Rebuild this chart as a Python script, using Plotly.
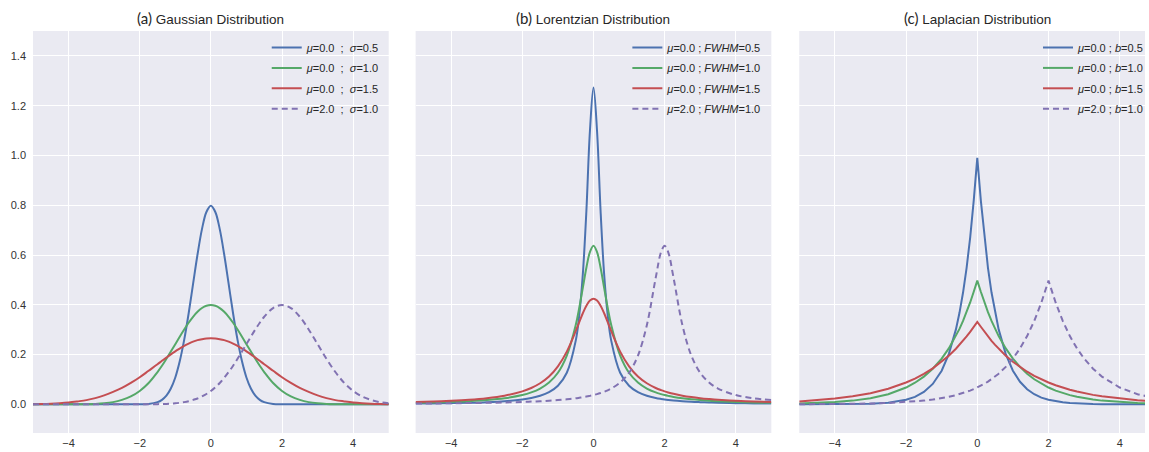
import plotly.graph_objects as go

# ---------------- data ----------------
x_a = [-5, -4.75, -4.5, -4.25, -4, -3.75, -3.5, -3.25, -3, -2.75, -2.5, -2.25, -2, -1.75, -1.5,
       -1.375, -1.25, -1.125, -1, -0.875, -0.75, -0.625, -0.5, -0.375, -0.25, -0.125, 0,
       0.125, 0.25, 0.375, 0.5, 0.625, 0.75, 0.875, 1, 1.125, 1.25, 1.375,
       1.5, 1.75, 2, 2.25, 2.5, 2.75, 3, 3.25, 3.5, 3.75, 4, 4.25, 4.5, 4.75, 5]
gauss_s05 = [0, 0, 0, 0, 0, 0, 0, 0, 0, 0, 0, 0, 0.0003, 0.0017, 0.0089,
             0.0182, 0.035, 0.0635, 0.108, 0.173, 0.259, 0.365, 0.484, 0.602, 0.704, 0.773,
             0.798,
             0.773, 0.704, 0.602, 0.484, 0.365, 0.259, 0.173, 0.108, 0.0635, 0.035, 0.0182,
             0.0089, 0.0017, 0.0003, 0, 0, 0, 0, 0, 0, 0, 0, 0, 0, 0, 0]
gauss_s10 = [0, 0, 0, 0, 0.0001, 0.0004, 0.0009, 0.002, 0.0044, 0.009, 0.018, 0.032, 0.054, 0.086, 0.130,
             0.155, 0.183, 0.212, 0.242, 0.272, 0.301, 0.328, 0.352, 0.372, 0.387, 0.396,
             0.399,
             0.396, 0.387, 0.372, 0.352, 0.328, 0.301, 0.272, 0.242, 0.212, 0.183, 0.155,
             0.130, 0.086, 0.054, 0.032, 0.018, 0.009, 0.0044, 0.002, 0.0009, 0.0004, 0.0001, 0, 0, 0, 0]
gauss_s15 = [0.0010, 0.0018, 0.0030, 0.0048, 0.0076, 0.012, 0.017, 0.025, 0.036, 0.050, 0.066, 0.086, 0.109,
             0.135, 0.161,
             0.175, 0.188, 0.201, 0.213, 0.224, 0.235, 0.244, 0.252, 0.258, 0.262, 0.265,
             0.266,
             0.265, 0.262, 0.258, 0.252, 0.244, 0.235, 0.224, 0.213, 0.201, 0.188, 0.175,
             0.161, 0.135, 0.109, 0.086, 0.066, 0.050, 0.036, 0.025, 0.017, 0.012, 0.0076, 0.0048, 0.0030,
             0.0018, 0.0010]
gauss_m2 = [0, 0, 0, 0, 0, 0, 0, 0, 0, 0, 0, 0, 0.0001, 0.0004, 0.0009,
            0.0013, 0.002, 0.0030, 0.0044, 0.0064, 0.009, 0.0127, 0.018, 0.0238, 0.032, 0.0417,
            0.054,
            0.0688, 0.086, 0.1066, 0.130, 0.155, 0.183, 0.212, 0.242, 0.272, 0.301, 0.328,
            0.352, 0.387, 0.399, 0.387, 0.352, 0.301, 0.242, 0.183, 0.130, 0.086, 0.054, 0.032, 0.018,
            0.009, 0.0044]

x_b = [-5, -4.5, -4, -3.5, -3, -2.5, -2, -1.75, -1.5, -1.25, -1, -0.75, -0.5, -0.4, -0.3, -0.2, -0.1, 0,
       0.1, 0.2, 0.3, 0.4, 0.5, 0.75, 1, 1.25, 1.5, 1.75, 1.9, 2, 2.1, 2.25, 2.5, 2.75, 3, 3.25, 3.5, 4, 4.5, 5]
lor_w05 = [0.0032, 0.0039, 0.0050, 0.0065, 0.0088, 0.0126, 0.0196, 0.0255, 0.0344, 0.049, 0.0749, 0.127,
           0.255, 0.358, 0.522, 0.776, 1.098,
           1.273,
           1.098, 0.776, 0.522, 0.358, 0.255, 0.127, 0.0749, 0.049, 0.0344, 0.0255, 0.0217, 0.0196, 0.0178,
           0.0155, 0.0126, 0.0104, 0.0088, 0.0075, 0.0065, 0.0050, 0.0039, 0.0032]
lor_w10 = [0.0063, 0.0078, 0.0098, 0.0127, 0.0172, 0.0245, 0.0374, 0.0480, 0.0637, 0.0878, 0.127, 0.196,
           0.318, 0.388, 0.468, 0.549, 0.612,
           0.637,
           0.612, 0.549, 0.468, 0.388, 0.318, 0.196, 0.127, 0.0878, 0.0637, 0.0480, 0.0412, 0.0374, 0.0342,
           0.0300, 0.0245, 0.0204, 0.0172, 0.0147, 0.0127, 0.0098, 0.0078, 0.0063]
lor_w15 = [0.0093, 0.0115, 0.0144, 0.0186, 0.0250, 0.0350, 0.0523, 0.0659, 0.0849, 0.112, 0.153, 0.212,
           0.294, 0.330, 0.366, 0.396, 0.417,
           0.424,
           0.417, 0.396, 0.366, 0.330, 0.294, 0.212, 0.153, 0.112, 0.0849, 0.0659, 0.0572, 0.0523, 0.0480,
           0.0424, 0.0350, 0.0294, 0.0250, 0.0215, 0.0186, 0.0144, 0.0115, 0.0093]
lor_m2 = [0.0032, 0.0037, 0.0044, 0.0052, 0.0063, 0.0078, 0.0098, 0.0111, 0.0127, 0.0147, 0.0172, 0.0204,
          0.0245, 0.0265, 0.0287, 0.0313, 0.0342, 0.0374, 0.0412, 0.0456, 0.0507, 0.0566, 0.0637, 0.0878,
          0.127, 0.196, 0.318, 0.509, 0.612, 0.637, 0.612, 0.509, 0.318, 0.196, 0.127, 0.0878, 0.0637,
          0.0374, 0.0245, 0.0172]

x_c = [-5, -4.5, -4, -3.5, -3, -2.5, -2, -1.75, -1.5, -1.25, -1, -0.8, -0.6, -0.5, -0.4, -0.3, -0.2, -0.1, 0,
       0.1, 0.2, 0.3, 0.4, 0.5, 0.6, 0.8, 1, 1.2, 1.4, 1.6, 1.8, 2, 2.2, 2.4, 2.6, 2.8, 3, 3.25, 3.5, 4, 4.5, 5]
lap_b05 = [0.0000, 0.0001, 0.0003, 0.0009, 0.0025, 0.0067, 0.0183, 0.0302, 0.0498, 0.0821, 0.1353, 0.2019,
           0.3012, 0.3679, 0.4493, 0.5488, 0.6703, 0.8187,
           0.99,
           0.8187, 0.6703, 0.5488, 0.4493, 0.3679, 0.3012, 0.2019, 0.1353, 0.0907, 0.0608, 0.0408, 0.0273,
           0.0183, 0.0123, 0.0082, 0.0055, 0.0037, 0.0025, 0.0015, 0.0009, 0.0003, 0.0001, 0.0000]
lap_b10 = [0.0034, 0.0056, 0.0092, 0.0151, 0.0249, 0.0410, 0.0677, 0.0869, 0.1116, 0.1433, 0.1839, 0.2247,
           0.2744, 0.3033, 0.3352, 0.3704, 0.4094, 0.4524,
           0.497,
           0.4524, 0.4094, 0.3704, 0.3352, 0.3033, 0.2744, 0.2247, 0.1839, 0.1506, 0.1233, 0.1009, 0.0826,
           0.0677, 0.0554, 0.0454, 0.0371, 0.0304, 0.0249, 0.0194, 0.0151, 0.0092, 0.0056, 0.0034]
lap_b15 = [0.0119, 0.0166, 0.0232, 0.0323, 0.0451, 0.0630, 0.0879, 0.1038, 0.1226, 0.1449, 0.1711, 0.1955,
           0.2234, 0.2388, 0.2553, 0.2729, 0.2917, 0.3118,
           0.331,
           0.3118, 0.2917, 0.2729, 0.2553, 0.2388, 0.2234, 0.1955, 0.1711, 0.1498, 0.1311, 0.1147, 0.1004,
           0.0879, 0.0769, 0.0673, 0.0589, 0.0515, 0.0451, 0.0382, 0.0323, 0.0232, 0.0166, 0.0119]
lap_m2 = [0.0005, 0.0008, 0.0012, 0.0020, 0.0034, 0.0056, 0.0092, 0.0118, 0.0151, 0.0194, 0.0249, 0.0304,
          0.0371, 0.0410, 0.0454, 0.0501, 0.0554, 0.0612, 0.0677, 0.0748, 0.0826, 0.0913, 0.1009, 0.1116,
          0.1233, 0.1506, 0.1839, 0.2247, 0.2744, 0.3352, 0.4094, 0.497, 0.4094, 0.3352, 0.2744, 0.2247,
          0.1839, 0.1433, 0.1116, 0.0677, 0.0410, 0.0249]

labels_a = ["<i>μ</i>=0.0  ;  <i>σ</i>=0.5", "<i>μ</i>=0.0  ;  <i>σ</i>=1.0",
            "<i>μ</i>=0.0  ;  <i>σ</i>=1.5", "<i>μ</i>=2.0  ;  <i>σ</i>=1.0"]
labels_b = ["<i>μ</i>=0.0 ; <i>FWHM</i>=0.5", "<i>μ</i>=0.0 ; <i>FWHM</i>=1.0",
            "<i>μ</i>=0.0 ; <i>FWHM</i>=1.5", "<i>μ</i>=2.0 ; <i>FWHM</i>=1.0"]
labels_c = ["<i>μ</i>=0.0 ; <i>b</i>=0.5", "<i>μ</i>=0.0 ; <i>b</i>=1.0",
            "<i>μ</i>=0.0 ; <i>b</i>=1.5", "<i>μ</i>=2.0 ; <i>b</i>=1.0"]
titles = [("(a)", "Gaussian Distribution"), ("(b)", "Lorentzian Distribution"), ("(c)", "Laplacian Distribution")]
y_ticks = [0.0, 0.2, 0.4, 0.6, 0.8, 1.0, 1.2, 1.4]
x_ticks = [-4, -2, 0, 2, 4]

# ---------------- styling ----------------
W, H = 1149, 452
ML, MR, MT, MB = 33, 0, 31, 19
PW = W - ML - MR
PH = H - MT - MB
def px2dom(a, b):
    return [(a - ML) / PW, (b - ML) / PW]
domains = [px2dom(33, 390), px2dom(417, 774), px2dom(802, 1149)]
xranges = [[-5, 5], [-5, 5], [-5, 4.71]]
colors = ["#4C72B0", "#55A868", "#C44E52", "#8172B2"]
text_col = "#262626"
shapes = ["spline", "spline", "linear"]

panels = [
    (x_a, [gauss_s05, gauss_s10, gauss_s15, gauss_m2], labels_a),
    (x_b, [lor_w05, lor_w10, lor_w15, lor_m2], labels_b),
    (x_c, [lap_b05, lap_b10, lap_b15, lap_m2], labels_c),
]

fig = go.Figure()
for p, (xs, ys_list, labs) in enumerate(panels):
    sfx = "" if p == 0 else str(p + 1)
    for i, ys in enumerate(ys_list):
        fig.add_trace(go.Scatter(
            x=xs, y=ys, mode="lines", name=labs[i],
            line=dict(color=colors[i], width=2, shape=shapes[p],
                      dash="6px,4px" if i == 3 else "solid"),
            xaxis="x" + sfx, yaxis="y" + sfx, legend="legend" + sfx,
            legendgroup=f"g{p}{i}", hoverinfo="skip",
        ))

layout = dict(
    width=W, height=H, margin=dict(l=ML, r=MR, t=MT, b=MB),
    paper_bgcolor="white", plot_bgcolor="#EAEAF2",
    font=dict(family="Liberation Sans, Arial, sans-serif", size=11, color=text_col),
    showlegend=True,
)
legend_right_px = [386, 769, 1153]
for p in range(3):
    sfx = "" if p == 0 else str(p + 1)
    layout["xaxis" + sfx] = dict(
        domain=domains[p], range=xranges[p], anchor="y" + sfx, automargin=False,
        tickvals=x_ticks, showgrid=True, gridcolor="white", gridwidth=1,
        zeroline=False, showline=False, ticks="", ticklabelstandoff=2,
        tickfont=dict(size=11, color="#333"),
    )
    layout["yaxis" + sfx] = dict(
        domain=[0, 1], range=[-0.115, 1.5], anchor="x" + sfx, automargin=False,
        tickvals=y_ticks, tickformat=".1f", showgrid=True, gridcolor="white", gridwidth=1,
        zeroline=False, showline=False, ticks="", showticklabels=(p == 0), ticklabelstandoff=6,
        tickfont=dict(size=11, color="#333"),
    )
    layout["legend" + sfx] = dict(
        x=(legend_right_px[p] - ML) / PW, xanchor="right", y=1.0 - 2 / PH, yanchor="top",
        xref="paper", yref="paper", bgcolor="rgba(0,0,0,0)", borderwidth=0,
        font=dict(size=11, color=text_col), itemwidth=30, tracegroupgap=1.4,
    )

annotations = []
for p, (tag, name) in enumerate(titles):
    cx = (domains[p][0] + domains[p][1]) / 2
    if p == 2:
        cx = ((802 + 1159) / 2 - ML) / PW
    annotations.append(dict(
        x=cx, y=1.0, xref="paper", yref="paper", xanchor="center", yanchor="bottom", yshift=2,
        showarrow=False,
        text=f"<span style='font-family:Lato, Open Sans; font-size:15px'>{tag}</span> {name}",
        font=dict(size=13.5, color=text_col),
    ))
layout["annotations"] = annotations

fig.update_layout(**layout)
fig.write_html("out.html", config={"displayModeBar": False},
               post_script="document.body.style.margin='0';document.body.style.overflow='hidden';")
